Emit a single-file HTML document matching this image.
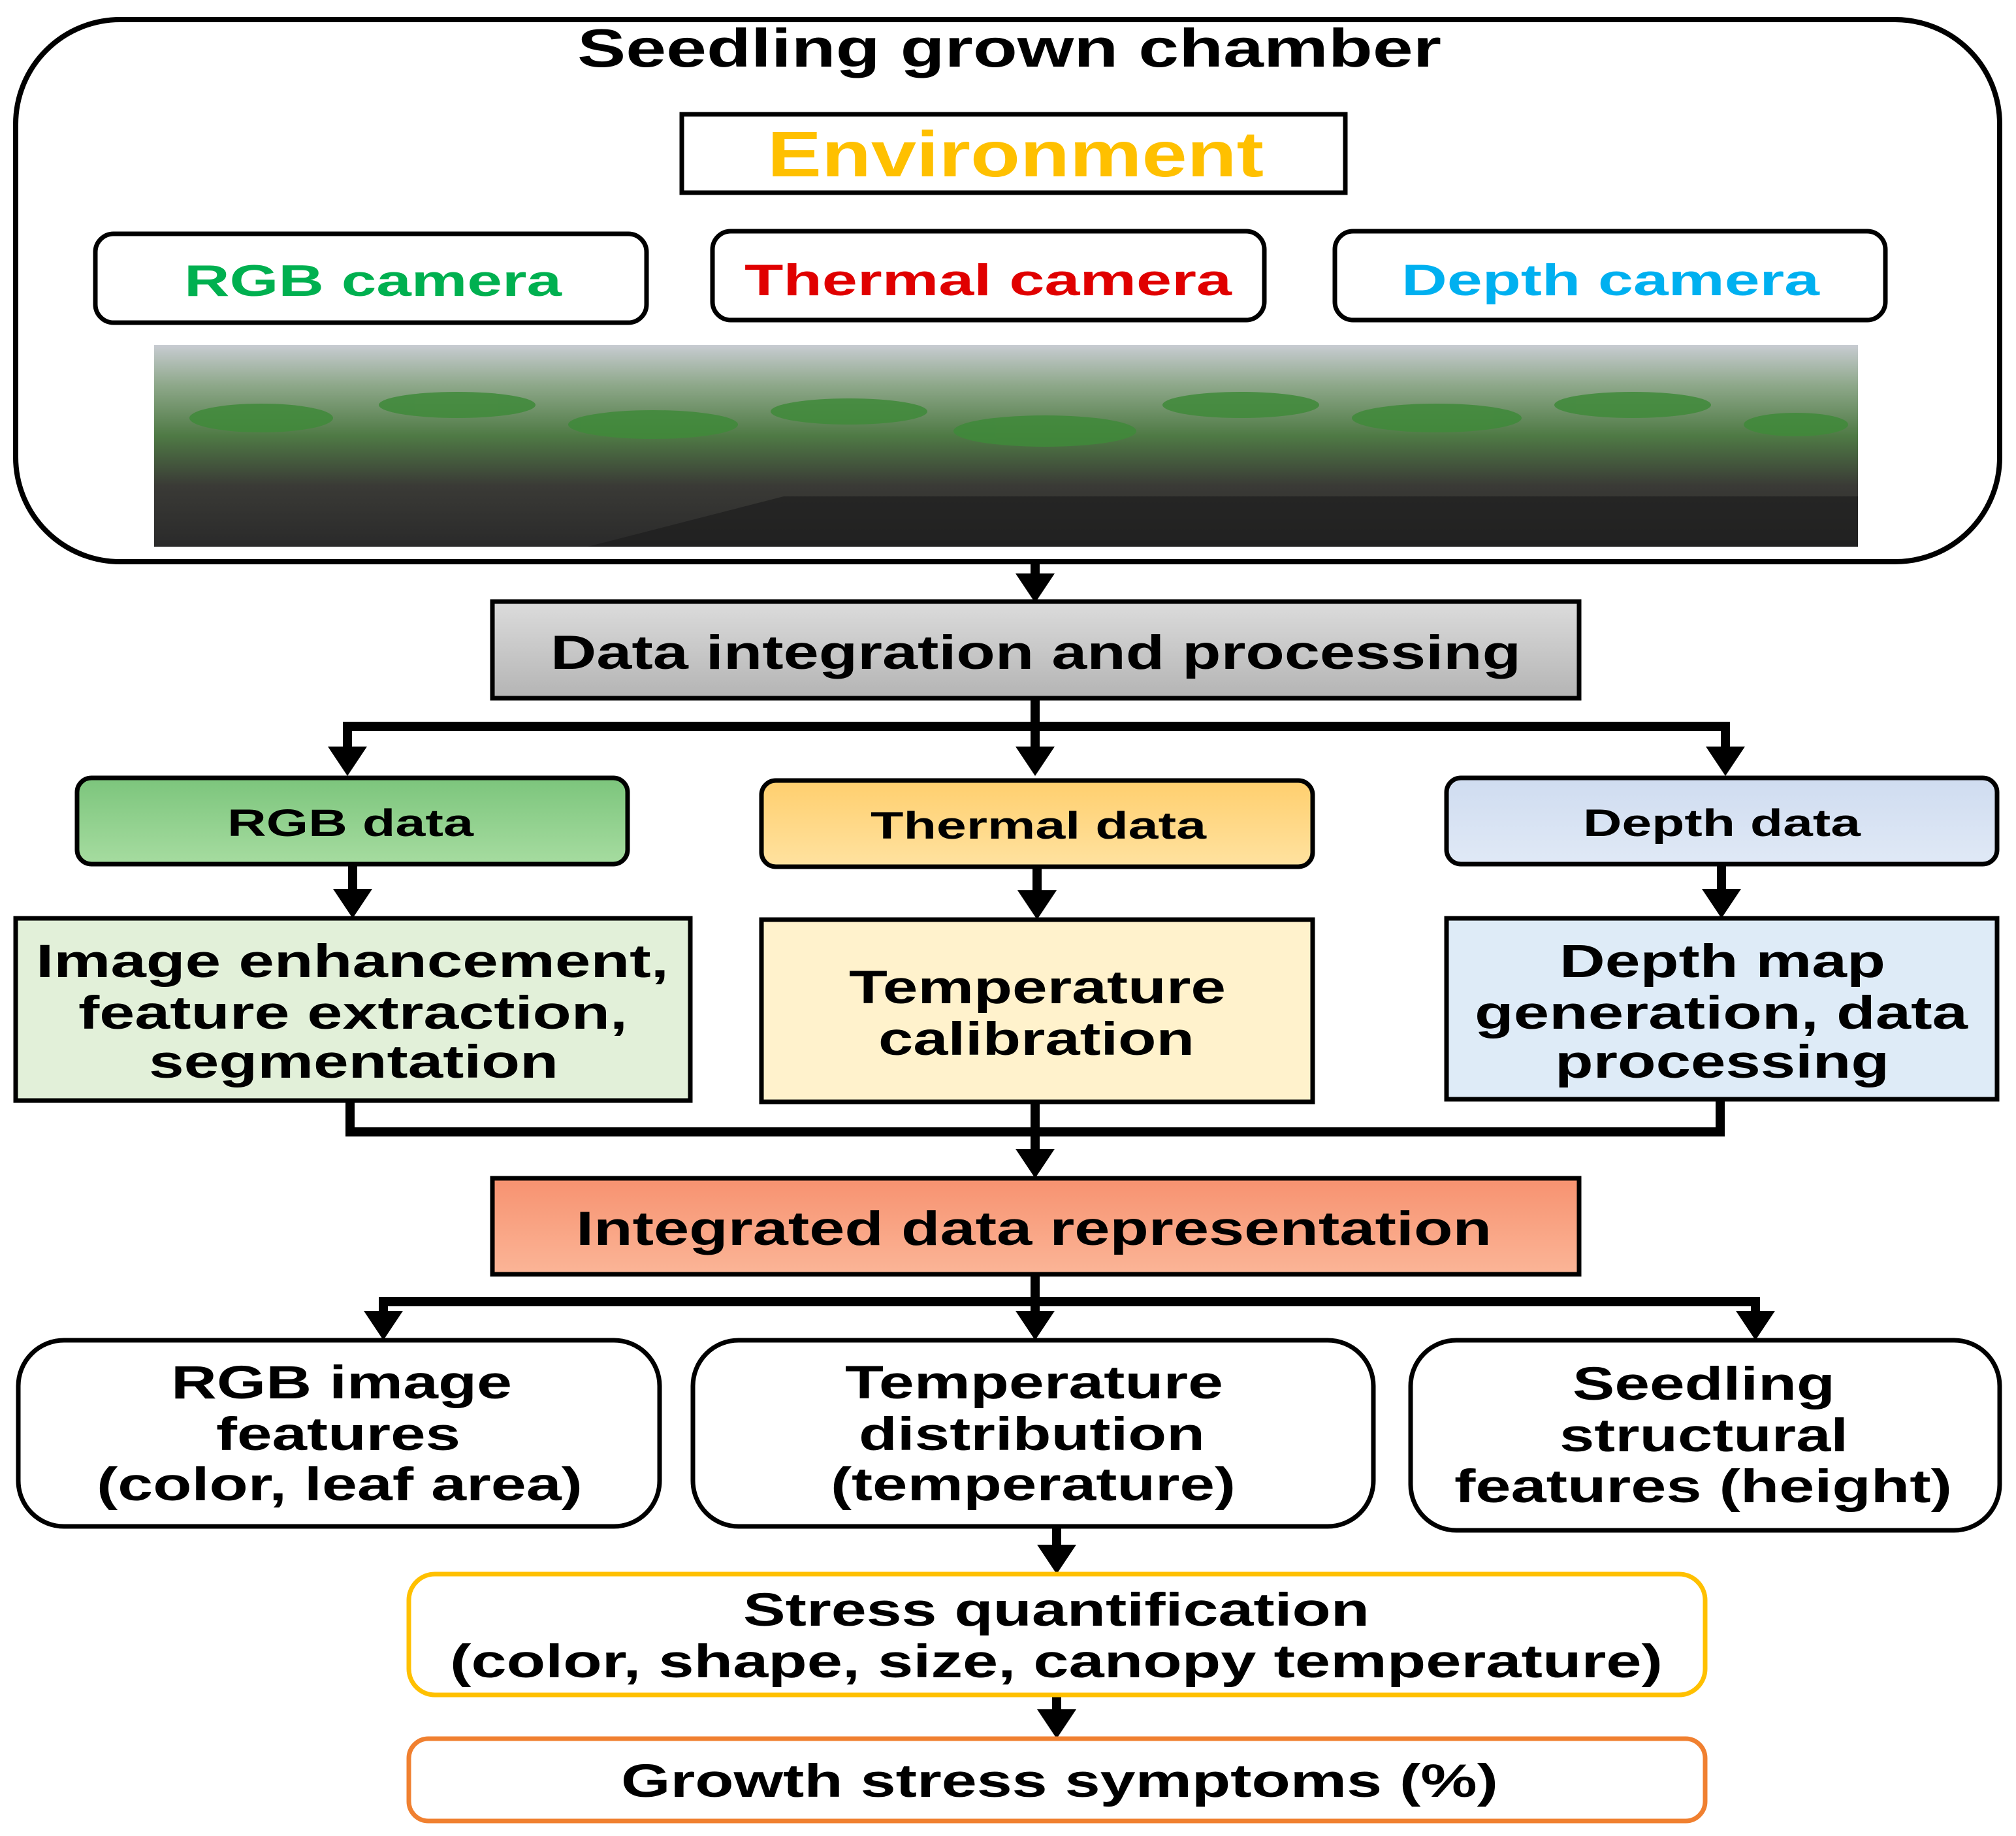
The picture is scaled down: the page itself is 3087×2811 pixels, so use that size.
<!DOCTYPE html>
<html><head><meta charset="utf-8"><style>
html,body{margin:0;padding:0;background:#fff;}
svg{display:block;}
text{font-family:"Liberation Sans",sans-serif;font-weight:bold;fill:#000;}
</style></head><body>
<svg width="3087" height="2811" viewBox="0 0 3087 2811" xmlns="http://www.w3.org/2000/svg">
<defs>
<linearGradient id="gray" x1="0" y1="0" x2="0" y2="1"><stop offset="0" stop-color="#dcdcdc"/><stop offset="1" stop-color="#b4b4b4"/></linearGradient>
<linearGradient id="green" x1="0" y1="0" x2="0" y2="1"><stop offset="0" stop-color="#7cc57c"/><stop offset="1" stop-color="#a6dca0"/></linearGradient>
<linearGradient id="yel" x1="0" y1="0" x2="0" y2="1"><stop offset="0" stop-color="#ffcf6e"/><stop offset="1" stop-color="#ffe2a0"/></linearGradient>
<linearGradient id="blue" x1="0" y1="0" x2="0" y2="1"><stop offset="0" stop-color="#cfdcf0"/><stop offset="1" stop-color="#e0e9f6"/></linearGradient>
<linearGradient id="sal" x1="0" y1="0" x2="0" y2="1"><stop offset="0" stop-color="#f79270"/><stop offset="1" stop-color="#fbb597"/></linearGradient>
<linearGradient id="photo" x1="0" y1="0" x2="0" y2="1"><stop offset="0" stop-color="#c8ccd2"/><stop offset="0.2" stop-color="#8ea88a"/><stop offset="0.45" stop-color="#4f7a45"/><stop offset="0.7" stop-color="#3a3a36"/><stop offset="1" stop-color="#2a2a2a"/></linearGradient>
</defs>

<rect x="24" y="30" width="3038" height="830" rx="160" fill="#fff" stroke="#000" stroke-width="8"/>
<text x="884" y="102" font-size="83" textLength="1323" lengthAdjust="spacingAndGlyphs">Seedling grown chamber</text>
<rect x="1044" y="175" width="1016" height="120" fill="#fff" stroke="#000" stroke-width="7"/>
<text x="1175" y="270" font-size="98" textLength="760" lengthAdjust="spacingAndGlyphs" style="fill:#FFC000">Environment</text>
<rect x="146" y="358" width="844" height="136" rx="28" fill="#fff" stroke="#000" stroke-width="7"/>
<text x="282" y="453" font-size="68" textLength="578" lengthAdjust="spacingAndGlyphs" style="fill:#00B050">RGB camera</text>
<rect x="1091" y="354" width="845" height="136" rx="28" fill="#fff" stroke="#000" stroke-width="7"/>
<text x="1140" y="452" font-size="68" textLength="746" lengthAdjust="spacingAndGlyphs" style="fill:#E00000">Thermal camera</text>
<rect x="2044" y="354" width="843" height="136" rx="28" fill="#fff" stroke="#000" stroke-width="7"/>
<text x="2146" y="452" font-size="68" textLength="640" lengthAdjust="spacingAndGlyphs" style="fill:#00B0F0">Depth camera</text>

<rect x="236" y="528" width="2609" height="309" fill="url(#photo)"/>
<g fill="#3f8a3a" opacity="0.85">
<ellipse cx="400" cy="640" rx="110" ry="22"/><ellipse cx="700" cy="620" rx="120" ry="20"/><ellipse cx="1000" cy="650" rx="130" ry="22"/>
<ellipse cx="1300" cy="630" rx="120" ry="20"/><ellipse cx="1600" cy="660" rx="140" ry="24"/><ellipse cx="1900" cy="620" rx="120" ry="20"/>
<ellipse cx="2200" cy="640" rx="130" ry="22"/><ellipse cx="2500" cy="620" rx="120" ry="20"/><ellipse cx="2750" cy="650" rx="80" ry="18"/>
</g>
<g fill="#1e1e1e" opacity="0.7"><polygon points="900,837 2845,837 2845,760 1200,760"/></g>

<g stroke="#000" stroke-width="14" fill="none">
<line x1="1585" y1="860" x2="1585" y2="885"/>
<line x1="1585" y1="1069" x2="1585" y2="1150"/>
<polyline points="532,1150 532,1112 2642,1112 2642,1150"/>
<line x1="540" y1="1323" x2="540" y2="1368"/>
<line x1="1588" y1="1327" x2="1588" y2="1370"/>
<line x1="2636" y1="1323" x2="2636" y2="1368"/>
<polyline points="536,1685 536,1733 2634,1733 2634,1683"/>
<line x1="1585" y1="1687" x2="1585" y2="1766"/>
<line x1="1585" y1="1951" x2="1585" y2="2014"/>
<polyline points="587,2014 587,1993 2688,1993 2688,2014"/>
<line x1="1618" y1="2337" x2="1618" y2="2372"/>
<line x1="1618" y1="2595" x2="1618" y2="2624"/>
</g>
<g fill="#000">
<polygon points="1555,878 1615,878 1585,923"/>
<polygon points="1555,1143 1615,1143 1585,1188"/>
<polygon points="502,1143 562,1143 532,1188"/>
<polygon points="2612,1143 2672,1143 2642,1188"/>
<polygon points="510,1361 570,1361 540,1406"/>
<polygon points="1558,1363 1618,1363 1588,1408"/>
<polygon points="2606,1361 2666,1361 2636,1406"/>
<polygon points="1555,1759 1615,1759 1585,1804"/>
<polygon points="1555,2007 1615,2007 1585,2052"/>
<polygon points="557,2007 617,2007 587,2052"/>
<polygon points="2658,2007 2718,2007 2688,2052"/>
<polygon points="1588,2365 1648,2365 1618,2410"/>
<polygon points="1588,2617 1648,2617 1618,2662"/>
</g>

<rect x="754" y="921" width="1664" height="148" fill="url(#gray)" stroke="#000" stroke-width="7"/>
<text x="843" y="1024" font-size="73" textLength="1486" lengthAdjust="spacingAndGlyphs">Data integration and processing</text>

<rect x="118" y="1191" width="843" height="132" rx="22" fill="url(#green)" stroke="#000" stroke-width="7"/>
<text x="348" y="1280" font-size="58" textLength="377" lengthAdjust="spacingAndGlyphs">RGB data</text>
<rect x="1166" y="1195" width="844" height="132" rx="22" fill="url(#yel)" stroke="#000" stroke-width="7"/>
<text x="1333" y="1284" font-size="58" textLength="514" lengthAdjust="spacingAndGlyphs">Thermal data</text>
<rect x="2215" y="1191" width="843" height="132" rx="22" fill="url(#blue)" stroke="#000" stroke-width="7"/>
<text x="2424" y="1280" font-size="58" textLength="425" lengthAdjust="spacingAndGlyphs">Depth data</text>

<rect x="24" y="1406" width="1033" height="279" fill="#e2f0d9" stroke="#000" stroke-width="7"/>
<text x="55" y="1496" font-size="71" textLength="969" lengthAdjust="spacingAndGlyphs">Image enhancement,</text>
<text x="120" y="1575" font-size="71" textLength="841" lengthAdjust="spacingAndGlyphs">feature extraction,</text>
<text x="228" y="1650" font-size="71" textLength="627" lengthAdjust="spacingAndGlyphs">segmentation</text>
<rect x="1166" y="1408" width="844" height="279" fill="#fff2cc" stroke="#000" stroke-width="7"/>
<text x="1300" y="1536" font-size="71" textLength="577" lengthAdjust="spacingAndGlyphs">Temperature</text>
<text x="1345" y="1615" font-size="71" textLength="484" lengthAdjust="spacingAndGlyphs">calibration</text>
<rect x="2215" y="1406" width="843" height="277" fill="#deebf7" stroke="#000" stroke-width="7"/>
<text x="2388" y="1496" font-size="71" textLength="499" lengthAdjust="spacingAndGlyphs">Depth map</text>
<text x="2258" y="1575" font-size="71" textLength="755" lengthAdjust="spacingAndGlyphs">generation, data</text>
<text x="2381" y="1650" font-size="71" textLength="512" lengthAdjust="spacingAndGlyphs">processing</text>

<rect x="754" y="1804" width="1664" height="147" fill="url(#sal)" stroke="#000" stroke-width="7"/>
<text x="882" y="1906" font-size="73" textLength="1402" lengthAdjust="spacingAndGlyphs">Integrated data representation</text>

<rect x="28" y="2052" width="982" height="285" rx="70" fill="#fff" stroke="#000" stroke-width="7"/>
<text x="262" y="2141" font-size="71" textLength="522" lengthAdjust="spacingAndGlyphs">RGB image</text>
<text x="331" y="2220" font-size="71" textLength="374" lengthAdjust="spacingAndGlyphs">features</text>
<text x="148" y="2297" font-size="71" textLength="744" lengthAdjust="spacingAndGlyphs">(color, leaf area)</text>
<rect x="1061" y="2052" width="1042" height="285" rx="70" fill="#fff" stroke="#000" stroke-width="7"/>
<text x="1294" y="2141" font-size="71" textLength="579" lengthAdjust="spacingAndGlyphs">Temperature</text>
<text x="1315" y="2220" font-size="71" textLength="530" lengthAdjust="spacingAndGlyphs">distribution</text>
<text x="1272" y="2297" font-size="71" textLength="620" lengthAdjust="spacingAndGlyphs">(temperature)</text>
<rect x="2160" y="2052" width="902" height="291" rx="70" fill="#fff" stroke="#000" stroke-width="7"/>
<text x="2408" y="2143" font-size="71" textLength="402" lengthAdjust="spacingAndGlyphs">Seedling</text>
<text x="2388" y="2222" font-size="71" textLength="442" lengthAdjust="spacingAndGlyphs">structural</text>
<text x="2227" y="2300" font-size="71" textLength="762" lengthAdjust="spacingAndGlyphs">features (height)</text>

<rect x="626" y="2410" width="1985" height="185" rx="40" fill="#fff" stroke="#FFC000" stroke-width="7"/>
<text x="1138" y="2489" font-size="71" textLength="959" lengthAdjust="spacingAndGlyphs">Stress quantification</text>
<text x="689" y="2568" font-size="71" textLength="1857" lengthAdjust="spacingAndGlyphs">(color, shape, size, canopy temperature)</text>

<rect x="626" y="2662" width="1985" height="126" rx="30" fill="#fff" stroke="#F08030" stroke-width="7"/>
<text x="951" y="2751" font-size="71" textLength="1343" lengthAdjust="spacingAndGlyphs">Growth stress symptoms (%)</text>
</svg>
</body></html>
